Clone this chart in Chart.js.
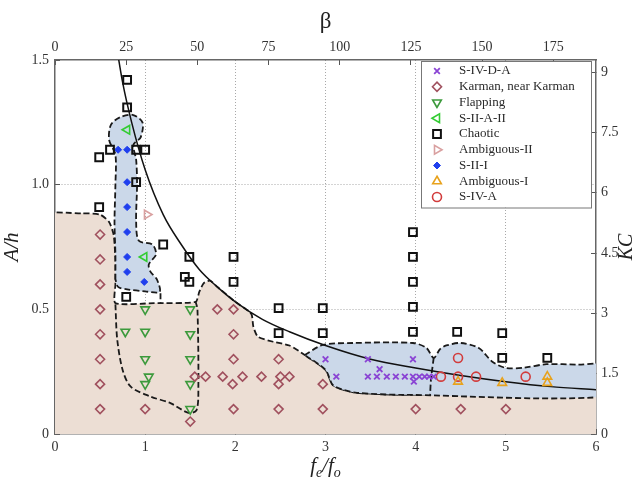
<!DOCTYPE html>
<html>
<head>
<meta charset="utf-8">
<script src="https://cdn.jsdelivr.net/npm/chart.js@4"></script>
<style>
  html, body { margin: 0; padding: 0; background: #fff; }
  #wrap { width: 639px; height: 480px; position: relative; }
</style>
</head>
<body>
<div id="wrap"><canvas id="chart"></canvas></div>
<script>
// Regime map: A/h against fe/fo (bottom/left), beta (top) and KC (right)

// Axis ticks
const xTicks = [0, 1, 2, 3, 4, 5, 6];
const yTicks = [0, 0.5, 1, 1.5];
const betaMax = 190;
const kcMax = 9.3;

// Marker series, [fe/fo, A/h]
const sivdaPts = [[3.0, 0.3], [3.12, 0.23], [3.47, 0.3], [3.47, 0.23], [3.57, 0.23], [3.6, 0.26], [3.68, 0.23],
  [3.78, 0.23], [3.88, 0.23], [3.97, 0.3], [3.97, 0.23], [3.98, 0.21], [4.04, 0.23], [4.1, 0.23], [4.15, 0.23], [4.2, 0.23]];
const karmanPts = [[0.5, 0.8], [0.5, 0.7], [0.5, 0.6], [0.5, 0.5], [0.5, 0.4], [0.5, 0.3], [0.5, 0.2], [0.5, 0.1],
  [1.0, 0.1], [1.5, 0.05], [1.55, 0.23], [1.67, 0.23], [1.8, 0.5], [1.86, 0.23], [1.97, 0.2], [1.98, 0.5], [1.98, 0.4],
  [1.98, 0.3], [1.98, 0.1], [2.08, 0.23], [2.29, 0.23], [2.48, 0.3], [2.5, 0.23], [2.48, 0.2], [2.6, 0.23], [2.48, 0.1],
  [2.97, 0.2], [2.97, 0.1], [4.0, 0.1], [4.5, 0.1], [5.0, 0.1]];
const flappingPts = [[1.0, 0.5], [1.5, 0.5], [0.78, 0.41], [1.0, 0.41], [1.5, 0.4], [1.0, 0.3], [1.5, 0.3],
  [1.04, 0.23], [1.0, 0.2], [1.5, 0.2], [1.5, 0.1]];
const siia2Pts = [[0.8, 1.22], [0.99, 0.71]];
const chaoticPts = [[0.8, 1.42], [0.8, 1.31], [0.61, 1.14], [0.9, 1.14], [1.0, 1.14], [0.49, 1.11], [0.9, 1.01],
  [0.49, 0.91], [1.2, 0.76], [1.49, 0.71], [1.98, 0.71], [1.44, 0.63], [1.49, 0.61], [1.98, 0.61], [0.79, 0.55],
  [2.48, 0.505], [2.97, 0.505], [2.48, 0.405], [2.97, 0.405], [3.97, 0.81], [3.97, 0.71], [3.97, 0.61],
  [3.97, 0.51], [3.97, 0.41], [4.46, 0.41], [4.96, 0.405], [4.96, 0.305], [5.46, 0.305]];
const amb2Pts = [[1.02, 0.88]];
const sii1Pts = [[0.7, 1.14], [0.8, 1.14], [0.8, 1.01], [0.8, 0.91], [0.8, 0.81], [0.8, 0.71], [0.8, 0.65], [0.99, 0.61]];
const amb1Pts = [[4.47, 0.21], [4.96, 0.205], [5.46, 0.23], [5.46, 0.205]];
const sivaPts = [[4.28, 0.23], [4.47, 0.305], [4.47, 0.23], [4.67, 0.23], [5.22, 0.23]];

// Boundary curve (solid line)
const curvePts = [[0.68, 1.56], [0.75, 1.41], [0.85, 1.25], [1.0, 1.06], [1.2, 0.88], [1.4, 0.76], [1.6, 0.66],
  [1.8, 0.59], [2.0, 0.53], [2.3, 0.46], [2.6, 0.41], [3.0, 0.355], [3.5, 0.3], [4.0, 0.265], [4.5, 0.235],
  [5.0, 0.21], [5.5, 0.19], [6.0, 0.177]];

// Region outlines (dashed)
const karmanRegion = [[-0.2, -0.2], [-0.2, 0.87], [0.3, 0.885], [0.5, 0.88], [0.6, 0.85], [0.65, 0.8], [0.67, 0.7],
  [0.67, 0.6], [0.67, 0.525], [1.1, 0.525], [1.56, 0.53], [1.6, 0.57], [1.65, 0.605], [1.72, 0.615], [1.8, 0.59],
  [1.9, 0.56], [2.0, 0.53], [2.1, 0.505], [2.18, 0.48], [2.2, 0.43], [2.25, 0.39], [2.42, 0.37], [2.6, 0.355],
  [2.77, 0.317], [3.0, 0.257], [3.08, 0.197], [3.2, 0.177], [3.35, 0.165], [3.86, 0.157], [6.3, 0.157],
  [6.3, -0.2], [-0.2, -0.2]];
const sii1Region = [[0.67, 0.62], [0.67, 0.72], [0.66, 0.85], [0.67, 1.0], [0.67, 1.12], [0.6, 1.18], [0.62, 1.24],
  [0.72, 1.27], [0.86, 1.28], [0.97, 1.25], [0.95, 1.19], [0.87, 1.16], [0.9, 1.1], [0.91, 1.0], [0.9, 0.85],
  [0.93, 0.775], [1.08, 0.76], [1.12, 0.72], [1.04, 0.68], [1.06, 0.65], [1.13, 0.62], [1.16, 0.57],
  [1.0, 0.572], [0.8, 0.58], [0.7, 0.59], [0.67, 0.62]];
const sivRegion = [[2.77, 0.317], [2.97, 0.357], [3.3, 0.365], [3.97, 0.365], [4.12, 0.345], [4.2, 0.305],
  [4.27, 0.34], [4.34, 0.355], [4.5, 0.365], [4.7, 0.345], [4.85, 0.29], [5.0, 0.265], [5.2, 0.266],
  [5.45, 0.28], [5.8, 0.278], [6.3, 0.277], [6.3, 0.157], [3.86, 0.157], [3.35, 0.165], [3.2, 0.177],
  [3.08, 0.197], [3.0, 0.257], [2.77, 0.317]];
const flappingRegion = [[0.67, 0.52], [0.69, 0.38], [0.75, 0.257], [0.84, 0.19], [1.06, 0.15], [1.28, 0.124],
  [1.48, 0.085], [1.57, 0.096], [1.59, 0.19], [1.58, 0.5], [1.56, 0.53]];
const sivSplit = [[4.2, 0.305], [4.17, 0.22], [4.16, 0.157]];
const whiteSplit = [[1.17, 0.565], [1.17, 0.525]];

const fillKarman = 'rgb(236, 222, 212)';
const fillBlue = 'rgb(203, 216, 233)';

const pts = arr => arr.map(([x, y]) => ({ x, y }));

Chart.defaults.font.family = "'Liberation Serif', 'DejaVu Serif', serif";
Chart.defaults.color = '#333';

function markerSet(label, data, color, style, extra) {
  return Object.assign({
    label,
    data: pts(data),
    inLegend: true,
    showLine: false,
    pointStyle: style,
    pointRadius: 4.5,
    pointRotation: 0,
    pointBorderColor: color,
    pointBackgroundColor: 'transparent',
    pointBorderWidth: 1.6,
    order: 0
  }, extra || {});
}

function outline(data, fillColor, order, tension) {
  return {
    data: pts(data),
    showLine: true,
    fill: fillColor ? 'shape' : false,
    backgroundColor: fillColor || 'transparent',
    borderColor: '#1a1a1a',
    borderWidth: 1.8,
    borderDash: [6, 3],
    pointRadius: 0,
    tension: tension,
    order
  };
}

// legend drawn inside the plot, top right
const insideLegend = {
  id: 'insideLegend',
  afterDatasetsDraw(chart) {
    const { ctx, chartArea: a } = chart;
    const items = chart.data.datasets.filter(d => d.inLegend);
    const x0 = a.right - 175, y0 = a.top + 1, w = 170, rowH = 15.75;
    const h = 20 + (items.length - 1) * rowH + 0.5;
    ctx.save();
    ctx.fillStyle = '#fff';
    ctx.fillRect(x0, y0, w, h);
    ctx.strokeStyle = '#777';
    ctx.lineWidth = 1;
    ctx.strokeRect(x0 + 0.5, y0 + 0.5, w, h);
    items.forEach((d, i) => {
      const y = y0 + 10 + i * rowH;
      ctx.strokeStyle = d.pointBorderColor;
      ctx.fillStyle = d.pointBackgroundColor;
      ctx.lineWidth = d.pointBorderWidth;
      Chart.helpers.drawPoint(ctx, {
        pointStyle: d.pointStyle,
        rotation: d.pointRotation,
        radius: d.pointRadius,
        borderWidth: d.pointBorderWidth
      }, x0 + 16, y);
      ctx.fillStyle = '#2a2a2a';
      ctx.font = "13px 'Liberation Serif'";
      ctx.textBaseline = 'middle';
      ctx.textAlign = 'left';
      ctx.fillText(d.label, x0 + 38, y);
    });
    ctx.restore();
  }
};

// KC title (reads bottom to top) and fe/fo title with subscripts
const axisTitles = {
  id: 'axisTitles',
  afterDraw(chart) {
    const { ctx, chartArea: a } = chart;
    ctx.save();
    ctx.fillStyle = '#222';
    ctx.textBaseline = 'middle';
    ctx.textAlign = 'center';
    ctx.translate(627, (a.top + a.bottom) / 2);
    ctx.rotate(-Math.PI / 2);
    ctx.font = "italic 20px 'Liberation Serif'";
    ctx.fillText('KC', 0, 0);
    ctx.restore();

    ctx.save();
    ctx.fillStyle = '#222';
    ctx.textBaseline = 'alphabetic';
    ctx.textAlign = 'left';
    const big = "italic 21px 'Liberation Serif'";
    const small = "italic 14px 'Liberation Serif'";
    const parts = [['f', big, 0], ['e', small, 5], ['/f', big, 0], ['o', small, 5]];
    let total = 0;
    parts.forEach(([t, f]) => { ctx.font = f; total += ctx.measureText(t).width; });
    let x = (a.left + a.right) / 2 - total / 2;
    parts.forEach(([t, f, dy]) => {
      ctx.font = f;
      ctx.fillText(t, x, 472 + dy);
      x += ctx.measureText(t).width;
    });
    ctx.restore();
  }
};

const gridColor = (lo, hi) => c => (c.tick && c.tick.value > lo && c.tick.value < hi) ? '#a8a8a8' : 'transparent';

new Chart(document.getElementById('chart'), {
  type: 'scatter',
  data: {
    datasets: [
      markerSet('S-IV-D-A', sivdaPts, '#8a44d4', 'crossRot', { pointRadius: 4, pointBorderWidth: 1.8 }),
      markerSet('Karman, near Karman', karmanPts, '#a0505e', 'rectRot'),
      markerSet('Flapping', flappingPts, '#3c9a3c', 'triangle', { pointRotation: 180, pointRadius: 5 }),
      markerSet('S-II-A-II', siia2Pts, '#33cc33', 'triangle', { pointRotation: 270, pointRadius: 5 }),
      markerSet('Chaotic', chaoticPts, '#111', 'rect', { pointRadius: 5.5, pointBorderWidth: 2 }),
      markerSet('Ambiguous-II', amb2Pts, '#d9a0a0', 'triangle', { pointRotation: 90, pointRadius: 5 }),
      markerSet('S-II-I', sii1Pts, '#1f3fee', 'rectRot', { pointRadius: 3.5, pointBackgroundColor: '#1f3fee', pointBorderWidth: 1 }),
      markerSet('Ambiguous-I', amb1Pts, '#e8a21c', 'triangle', { pointRadius: 5 }),
      markerSet('S-IV-A', sivaPts, '#d23c3c', 'circle', { pointRadius: 4.5 }),
      {
        data: pts(curvePts),
        showLine: true,
        borderColor: '#111',
        borderWidth: 1.5,
        pointRadius: 0,
        cubicInterpolationMode: 'monotone',
        order: 5
      },
      outline(whiteSplit, null, 14, 0),
      outline(sivSplit, null, 15, 0.3),
      outline(flappingRegion, null, 16, 0.3),
      outline(sivRegion, fillBlue, 18, 0.3),
      outline(sii1Region, fillBlue, 19, 0.3),
      outline(karmanRegion, fillKarman, 20, 0.2)
    ]
  },
  options: {
    responsive: true,
    maintainAspectRatio: false,
    animation: false,
    layout: { padding: 0 },
    plugins: {
      legend: { display: false },
      tooltip: { enabled: false }
    },
    scales: {
      x: {
        type: 'linear',
        position: 'bottom',
        min: xTicks[0],
        max: xTicks[xTicks.length - 1],
        ticks: { stepSize: 1, padding: 10, font: { size: 14 }, color: '#333' },
        grid: { color: gridColor(0, 6), tickColor: '#555', tickLength: -5, lineWidth: 1 },
        border: { color: '#666', width: 1.5, dash: [1, 2] },
        afterFit: s => { s.height = 46; }
      },
      y: {
        type: 'linear',
        position: 'left',
        min: yTicks[0],
        max: yTicks[yTicks.length - 1],
        ticks: { stepSize: 0.5, padding: 11, font: { size: 14 }, color: '#333' },
        grid: { color: gridColor(0, 1.5), tickColor: '#555', tickLength: -5, lineWidth: 1 },
        border: { color: '#666', width: 1.5, dash: [1, 2] },
        title: { display: true, text: 'A/h', padding: { top: 0, bottom: 8 }, font: { size: 21, style: 'italic' }, color: '#222' },
        afterFit: s => { s.width = 55; }
      },
      x2: {
        type: 'linear',
        position: 'top',
        min: 0,
        max: betaMax,
        ticks: { stepSize: 25, includeBounds: false, padding: 9, font: { size: 14 }, color: '#333' },
        grid: { drawOnChartArea: false, tickColor: '#555', tickLength: -5 },
        border: { color: '#666', width: 1.5 },
        title: { display: true, text: 'β', padding: { top: 8, bottom: 0 }, font: { size: 23 }, color: '#222' },
        afterFit: s => { s.height = 60; }
      },
      y2: {
        type: 'linear',
        position: 'right',
        min: 0,
        max: kcMax,
        ticks: { stepSize: 1.5, includeBounds: false, padding: 10, font: { size: 14 }, color: '#333' },
        grid: { drawOnChartArea: false, tickColor: '#555', tickLength: -5 },
        border: { color: '#666', width: 1.5 },
        afterFit: s => { s.width = 43; }
      }
    }
  },
  plugins: [insideLegend, axisTitles]
});
</script>
</body>
</html>
